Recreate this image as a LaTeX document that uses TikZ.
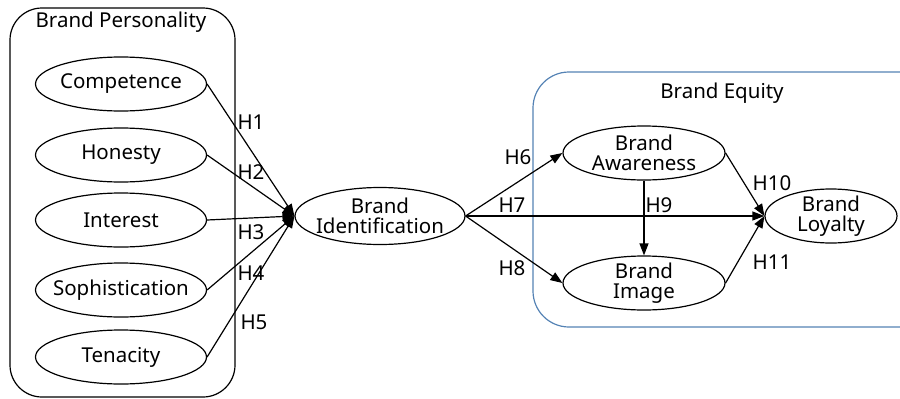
\documentclass[tikz,border=0pt]{standalone}
\usepackage{fontspec}
\setmainfont{Noto Sans}
\usepackage{tikz}
\usetikzlibrary{shapes.geometric,arrows.meta}

\begin{document}
\begin{tikzpicture}[x=1pt, y=-1pt, line width=1.2pt,
    every node/.style={font=\fontsize{20.5}{20}\selectfont, align=center},
    construct/.style={draw, ellipse, inner xsep=-12pt, inner ysep=-3pt, minimum height=54pt},
    hyp/.style={inner sep=1pt},
    path/.style={-{Triangle[length=12pt,width=9pt]}}]
    \useasboundingbox (0,0) rectangle (900,399);
    \definecolor{eqblue}{RGB}{84,130,180}
    \draw [rounded corners=32pt] (10,8) rectangle (235,397);
    \draw [eqblue, rounded corners=36pt] (533,72) rectangle (940,327);
    \node (bp) at (121,22) {Brand Personality};
    \node (be) at (722,93) {Brand Equity};
    \node [construct, minimum width=171pt] (comp) at (121,84) {Competence};
    \node [construct, minimum width=171pt] (hon) at (121,155) {Honesty};
    \node [construct, minimum width=171pt] (int) at (121,220) {Interest};
    \node [construct, minimum width=171pt] (soph) at (121,290) {Sophistication};
    \node [construct, minimum width=171pt] (ten) at (121,357) {Tenacity};
    \node [construct, minimum width=170pt, minimum height=57pt] (bid) at (380,216) {Brand\\Identification};
    \node [construct, minimum width=162pt] (baw) at (644,153) {Brand\\Awareness};
    \node [construct, minimum width=162pt] (bim) at (644,283) {Brand\\Image};
    \node [construct, minimum width=132pt] (bloy) at (831,216) {Brand\\Loyalty};
    \draw [path] (comp.east) -- (bid.west);
    \draw [path] (hon.east) -- (bid.west);
    \draw [path] (int.east) -- (bid.west);
    \draw [path] (soph.east) -- (bid.west);
    \draw [path] (ten.east) -- (bid.west);
    \draw [path] (bid.east) -- (baw.west);
    \draw [path] (bid.east) -- (bloy.west);
    \draw [path] (bid.east) -- (bim.west);
    \draw [path] (baw.south) -- (bim.north);
    \draw [path] (baw.east) -- (bloy.west);
    \draw [path] (bim.east) -- (bloy.west);
    \node [hyp] (h1) at (251,122) {H1};
    \node [hyp] (h2) at (251,172) {H2};
    \node [hyp] (h3) at (251,232) {H3};
    \node [hyp] (h4) at (251,273) {H4};
    \node [hyp] (h5) at (254,322) {H5};
    \node [hyp] (h6) at (518,157) {H6};
    \node [hyp] (h7) at (512,205) {H7};
    \node [hyp] (h8) at (512,268) {H8};
    \node [hyp] (h9) at (659,205) {H9};
    \node [hyp] (h10) at (772,183) {H10};
    \node [hyp] (h11) at (772,262) {H11};
\end{tikzpicture}
\end{document}
